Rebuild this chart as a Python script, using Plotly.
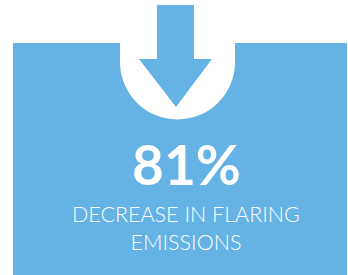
import plotly.graph_objects as go

# Data
metric_values = [81]
metric_units = ["%"]
metric_labels = ["DECREASE IN FLARING<br>EMISSIONS"]

BLUE = "#65B2E5"

fig = go.Figure()

shapes = [
    dict(type="rect", x0=13, x1=347, y0=43, y1=276, fillcolor=BLUE, line_width=0, layer="below"),
    dict(type="rect", x0=120, x1=235, y0=42, y1=62, fillcolor="white", line_width=0, layer="below"),
    dict(type="circle", x0=120, x1=235, y0=4.5, y1=119.5, fillcolor="white", line_width=0, layer="below"),
    dict(type="path",
         path="M 157,5 L 194,5 L 194,59 L 212,59 L 176,107 L 139,59 L 157,59 Z",
         fillcolor=BLUE, line_width=0, layer="below"),
]

annotations = [
    dict(x=186, y=164, xref="x", yref="y", text=f"<b>{metric_values[0]}{metric_units[0]}</b>",
         showarrow=False, font=dict(family="Lato", size=55, color="white"),
         xanchor="center", yanchor="middle"),
    dict(x=186, y=228, xref="x", yref="y", text=metric_labels[0],
         showarrow=False, font=dict(family="Lato", size=21.5, color="white", weight=300),
         xanchor="center", yanchor="middle", align="center"),
]

fig.update_layout(
    width=348, height=275,
    margin=dict(l=0, r=0, t=0, b=0),
    paper_bgcolor="white", plot_bgcolor="white",
    xaxis=dict(range=[0, 348], visible=False, fixedrange=True),
    yaxis=dict(range=[275, 0], visible=False, fixedrange=True),
    shapes=shapes, annotations=annotations, showlegend=False,
)

fig.write_html("out.html", config={"displayModeBar": False},
               post_script="document.body.style.margin='0';document.body.style.overflow='hidden';")
